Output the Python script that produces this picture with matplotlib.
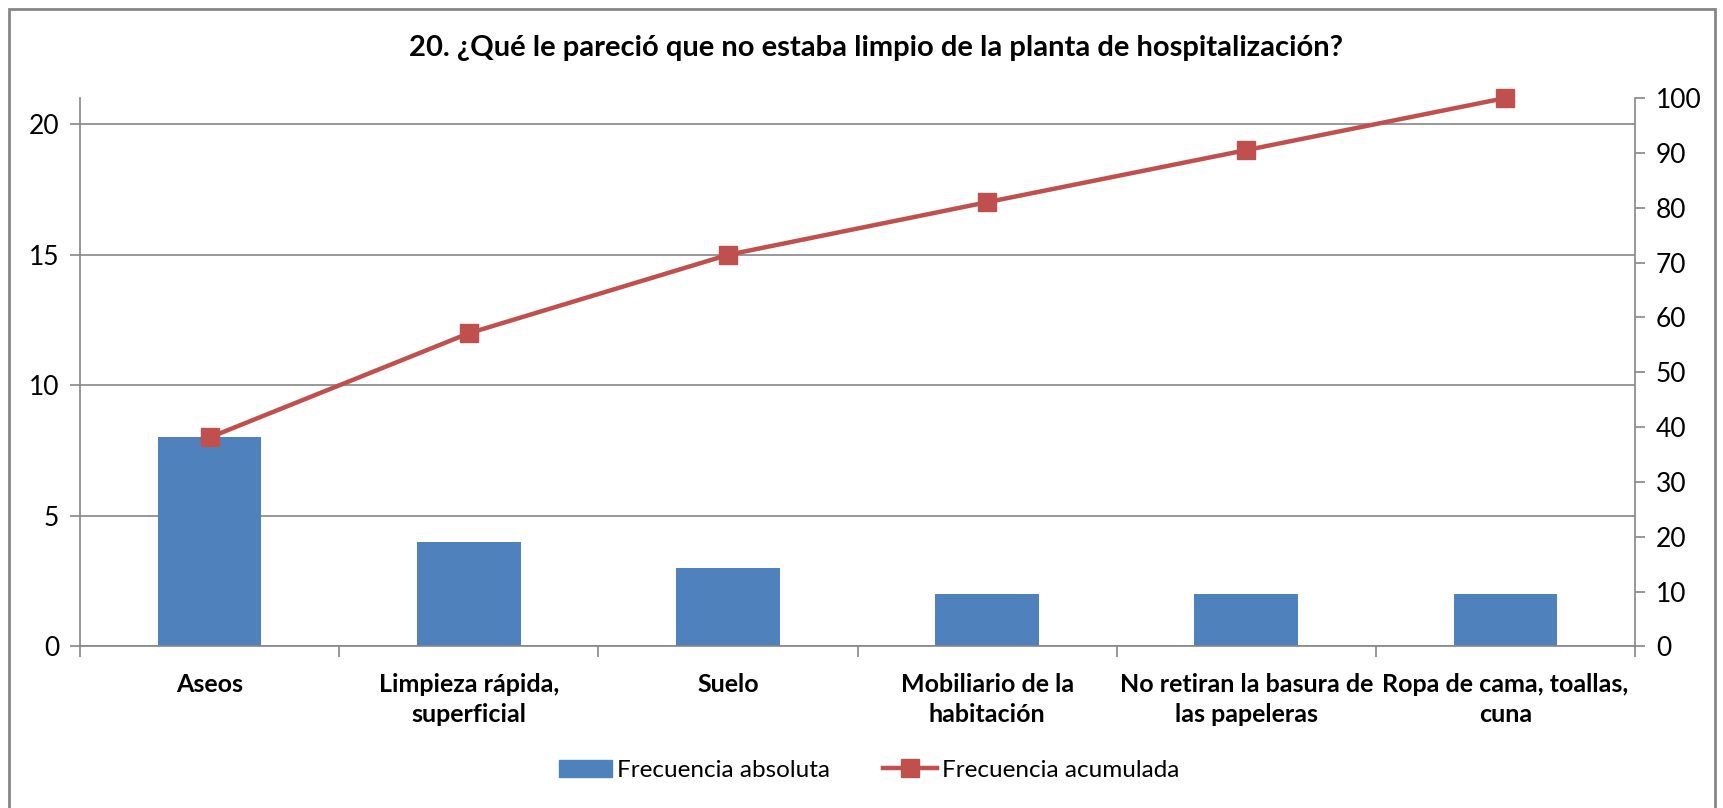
import matplotlib
matplotlib.use("Agg")
import matplotlib.pyplot as plt
import matplotlib.patches as patches
from matplotlib.lines import Line2D

plt.rcParams['font.family'] = ['Lato', 'DejaVu Sans']

categories = [
    "Aseos",
    "Limpieza rápida,\nsuperficial",
    "Suelo",
    "Mobiliario de la\nhabitación",
    "No retiran la basura de\nlas papeleras",
    "Ropa de cama, toallas,\ncuna",
]
frec_absoluta = [8, 4, 3, 2, 2, 2]
frec_acumulada = [38.1, 57.1, 71.4, 81.0, 90.5, 100.0]
left_ticks = [0, 5, 10, 15, 20]
right_ticks = [0, 10, 20, 30, 40, 50, 60, 70, 80, 90, 100]

title = "20. ¿Qué le pareció que no estaba limpio de la planta de hospitalización?"

blue = "#4F81BD"
red = "#C0504D"
grey = "#868686"

fig = plt.figure(figsize=(17.24, 8.08), dpi=100)
ax = fig.add_axes([0.0464, 0.2, 0.9020, 0.6787])
x = list(range(len(categories)))

ax.bar(x, frec_absoluta, width=0.4, color=blue, zorder=2)
ax.set_xlim(-0.5, len(categories) - 0.5)
ax.set_ylim(0, 21)
ax.set_yticks(left_ticks)
ax.yaxis.grid(True, color=grey, linewidth=1.2, zorder=0)
ax.set_axisbelow(True)

# category labels between boundary ticks
ax.set_xticks([i - 0.5 for i in range(len(categories) + 1)])
ax.set_xticklabels([])
ax.set_xticks(x, minor=True)
ax.set_xticklabels(categories, minor=True, fontsize=18, fontweight="bold",
                   linespacing=1.4)
ax.tick_params(axis="x", which="minor", length=0, pad=19)
ax.tick_params(axis="x", which="major", length=8, width=1.2, color=grey)
ax.tick_params(axis="y", length=7, width=1.2, color=grey, labelsize=19, pad=8)

for s in ["top", "right"]:
    ax.spines[s].set_visible(False)
for s in ["left", "bottom"]:
    ax.spines[s].set_color(grey)
    ax.spines[s].set_linewidth(1.2)

ax2 = ax.twinx()
ax2.plot(x, frec_acumulada, color=red, linewidth=3.2, marker="s",
         markersize=13, markeredgecolor=red, zorder=3, clip_on=False)
ax2.set_ylim(0, 100)
ax2.set_yticks(right_ticks)
ax2.tick_params(axis="y", length=7, width=1.2, color=grey, labelsize=19, pad=8)
for s in ["top", "left", "bottom"]:
    ax2.spines[s].set_visible(False)
ax2.spines["right"].set_color(grey)
ax2.spines["right"].set_linewidth(1.2)

fig.text(0.508, 0.94, title, ha="center", va="center", fontsize=21,
         fontweight="bold")

handles = [
    patches.Patch(facecolor=blue, edgecolor=blue),
    Line2D([0], [0], color=red, linewidth=3.2, marker="s", markersize=13),
]
fig.legend(handles, ["Frecuencia absoluta", "Frecuencia acumulada"],
           loc="center", bbox_to_anchor=(0.504, 0.047), ncol=2, frameon=False,
           fontsize=17.5, handlelength=2.2, columnspacing=2.2, handletextpad=0.2)

# outer chart border
fig.patches.append(patches.Rectangle(
    (9 / 1724, -0.05), 1 - 18 / 1724, 1.05 - 9 / 808,
    transform=fig.transFigure, fill=False, edgecolor=grey, linewidth=2))

fig.savefig("out.png", dpi=100)
